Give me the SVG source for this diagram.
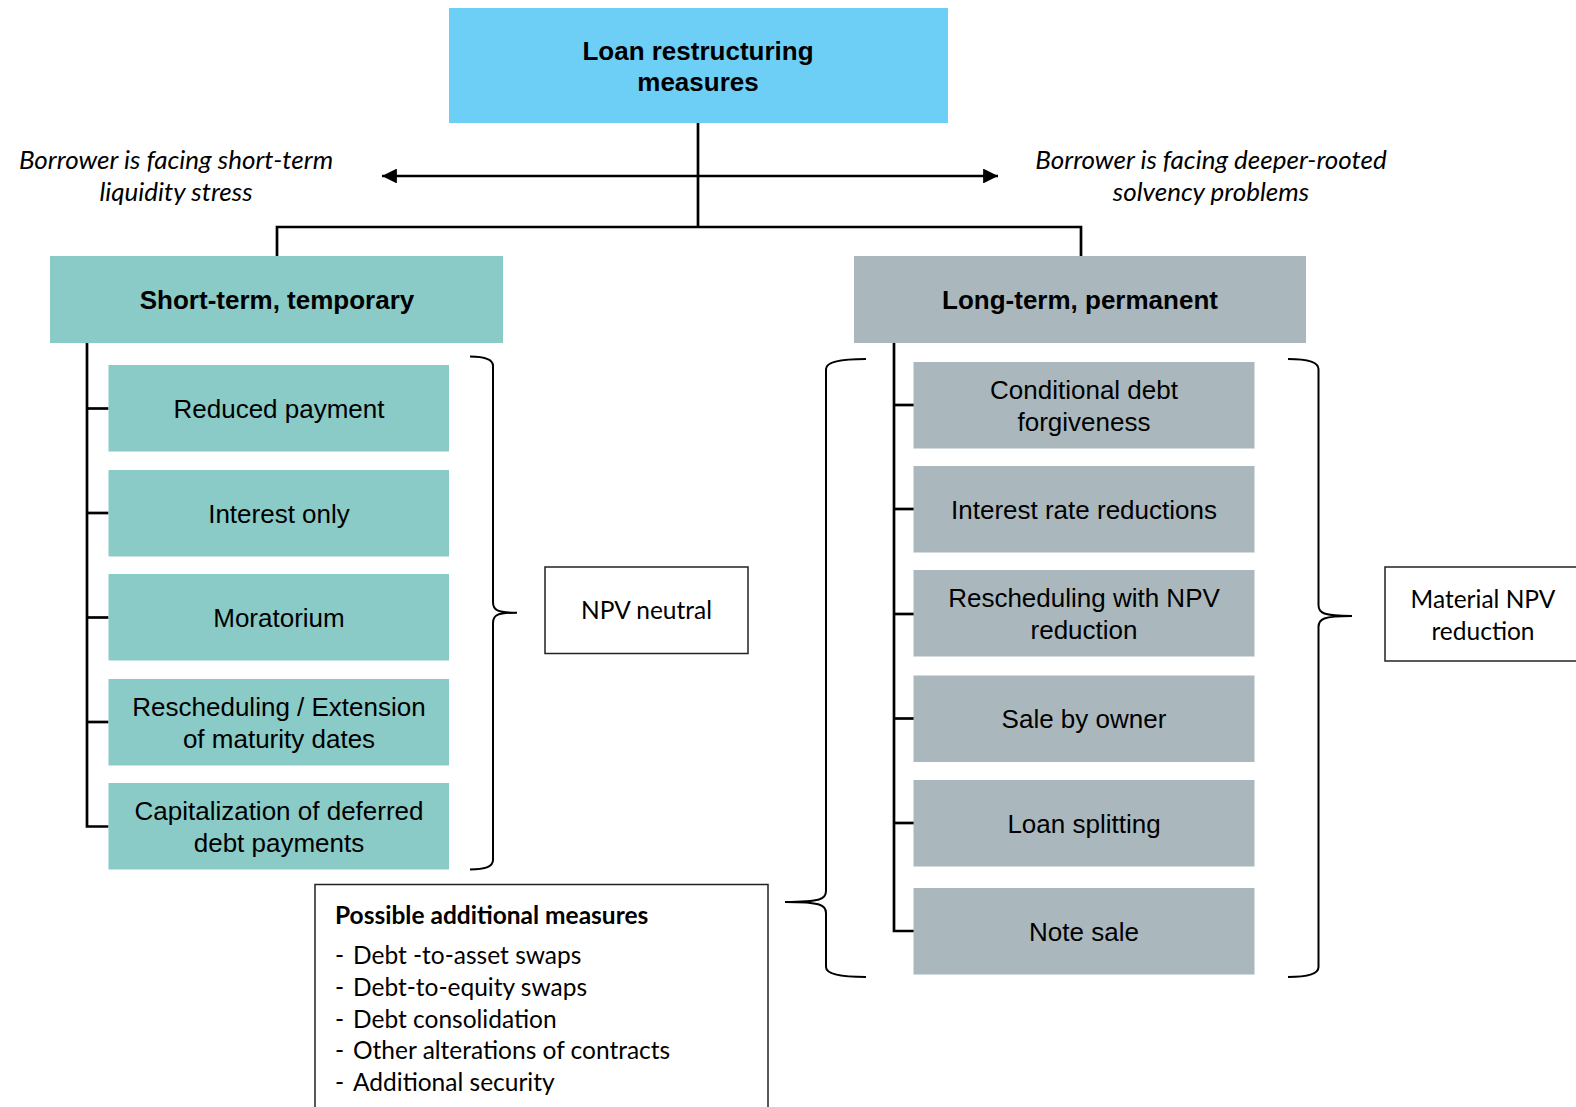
<svg xmlns="http://www.w3.org/2000/svg" width="1576" height="1107" viewBox="0 0 1576 1107">
<defs>
<style>
.top{fill:#6DCFF6}
.teal{fill:#8ACBC7}
.gray{fill:#AAB8BD}
.t{font-family:"Liberation Sans",Arial,sans-serif;font-size:26px;fill:#000;text-anchor:middle}
.b{font-weight:bold}
.c{font-family:Lato,"Liberation Sans",sans-serif;font-size:24.5px;fill:#000}
.ci{font-style:italic;text-anchor:middle;font-size:26px}
.box{fill:#fff;stroke:#222;stroke-width:1.5}
.ln{fill:none;stroke:#000;stroke-width:2.7}
.br{fill:none;stroke:#000;stroke-width:2}
</style>
<marker id="ah" viewBox="0 0 10 10" refX="10" refY="5" markerWidth="5.5" markerHeight="5.5" markerUnits="strokeWidth" orient="auto-start-reverse">
<path d="M0,0 L10,5 L0,10 Z" fill="#000"/>
</marker>
</defs>
<rect width="1576" height="1107" fill="#fff"/>

<g id="connectors">
<line class="ln" x1="382" y1="176" x2="998" y2="176" marker-start="url(#ah)" marker-end="url(#ah)"/>
<line class="ln" x1="698" y1="123" x2="698" y2="227"/>
<polyline class="ln" points="277,256 277,227 1081,227 1081,256"/>
<polyline class="ln" points="87,343 87,826.5 108.5,826.5"/>
<line class="ln" x1="87" y1="408.5" x2="108.5" y2="408.5"/>
<line class="ln" x1="87" y1="513" x2="108.5" y2="513"/>
<line class="ln" x1="87" y1="617.5" x2="108.5" y2="617.5"/>
<line class="ln" x1="87" y1="722" x2="108.5" y2="722"/>
<polyline class="ln" points="894,343 894,931 914,931"/>
<line class="ln" x1="894" y1="405" x2="914" y2="405"/>
<line class="ln" x1="894" y1="509" x2="914" y2="509"/>
<line class="ln" x1="894" y1="614" x2="914" y2="614"/>
<line class="ln" x1="894" y1="718.5" x2="914" y2="718.5"/>
<line class="ln" x1="894" y1="823" x2="914" y2="823"/>
<path class="br" d="M470,356.5 Q493,356.5 493,366 L493,602 C493,610 497,612.7 517,612.7 C497,612.7 493,615 493,623 L493,860 Q493,869.5 470,869.5"/>
<path class="br" d="M1288,359 Q1318.5,359 1318.5,369 L1318.5,605 C1318.5,613 1323,616 1352,616 C1323,616 1318.5,619 1318.5,627 L1318.5,967 Q1318.5,977 1288,977"/>
<path class="br" d="M866,359 Q826,359 826,369 L826,891 C826,899 821,902 785,902 C821,902 826,905 826,913 L826,967 Q826,977 866,977"/>
</g>

<g id="root">
<rect class="top" x="449" y="8" width="499" height="115"/>
<text class="t b" x="698" y="60">Loan restructuring</text>
<text class="t b" x="698" y="91">measures</text>
</g>

<g id="label-left">
<text class="c ci" x="176" y="169">Borrower is facing short-term</text>
<text class="c ci" x="176" y="201">liquidity stress</text>
</g>
<g id="label-right">
<text class="c ci" x="1211" y="169">Borrower is facing deeper-rooted</text>
<text class="c ci" x="1211" y="201">solvency problems</text>
</g>

<g id="short-term">
<rect class="teal" x="50" y="256" width="453" height="87"/>
<text class="t b" x="277" y="308.5">Short-term, temporary</text>
</g>
<g id="long-term">
<rect class="gray" x="854" y="256" width="452" height="87"/>
<text class="t b" x="1080" y="308.5">Long-term, permanent</text>
</g>

<g id="reduced-payment">
<rect class="teal" x="108.5" y="365" width="340.5" height="86.5"/>
<text class="t" x="279" y="418">Reduced payment</text>
</g>
<g id="interest-only">
<rect class="teal" x="108.5" y="470" width="340.5" height="86.5"/>
<text class="t" x="279" y="523">Interest only</text>
</g>
<g id="moratorium">
<rect class="teal" x="108.5" y="574" width="340.5" height="86.5"/>
<text class="t" x="279" y="627">Moratorium</text>
</g>
<g id="rescheduling-extension">
<rect class="teal" x="108.5" y="679" width="340.5" height="86.5"/>
<text class="t" x="279" y="716">Rescheduling / Extension</text>
<text class="t" x="279" y="748">of maturity dates</text>
</g>
<g id="capitalization">
<rect class="teal" x="108.5" y="783" width="340.5" height="86.5"/>
<text class="t" x="279" y="820">Capitalization of deferred</text>
<text class="t" x="279" y="852">debt payments</text>
</g>

<g id="npv-neutral">
<rect class="box" x="545" y="567" width="203" height="86.5"/>
<text class="c" x="646.5" y="619" text-anchor="middle">NPV neutral</text>
</g>

<g id="conditional-debt">
<rect class="gray" x="913.5" y="362" width="341" height="86.5"/>
<text class="t" x="1084" y="398.5">Conditional debt</text>
<text class="t" x="1084" y="430.5">forgiveness</text>
</g>
<g id="interest-rate">
<rect class="gray" x="913.5" y="466" width="341" height="86.5"/>
<text class="t" x="1084" y="518.5">Interest rate reductions</text>
</g>
<g id="rescheduling-npv">
<rect class="gray" x="913.5" y="570" width="341" height="86.5"/>
<text class="t" x="1084" y="606.5">Rescheduling with NPV</text>
<text class="t" x="1084" y="638.5">reduction</text>
</g>
<g id="sale-by-owner">
<rect class="gray" x="913.5" y="675.5" width="341" height="86.5"/>
<text class="t" x="1084" y="728">Sale by owner</text>
</g>
<g id="loan-splitting">
<rect class="gray" x="913.5" y="780" width="341" height="86.5"/>
<text class="t" x="1084" y="833">Loan splitting</text>
</g>
<g id="note-sale">
<rect class="gray" x="913.5" y="888" width="341" height="86.5"/>
<text class="t" x="1084" y="940.5">Note sale</text>
</g>

<g id="material-npv">
<rect class="box" x="1385" y="567" width="200" height="94"/>
<text class="c" x="1483" y="608" text-anchor="middle">Material NPV</text>
<text class="c" x="1483" y="640" text-anchor="middle">reduction</text>
</g>

<g id="additional-measures">
<rect class="box" x="315" y="884.5" width="453" height="240"/>
<text class="c" x="335" y="924" font-weight="bold">Possible additional measures</text>
<text class="c" x="335" y="964">-</text><text class="c" x="353" y="964">Debt -to-asset swaps</text>
<text class="c" x="335" y="995.5">-</text><text class="c" x="353" y="995.5">Debt-to-equity swaps</text>
<text class="c" x="335" y="1027.5">-</text><text class="c" x="353" y="1027.5">Debt consolidation</text>
<text class="c" x="335" y="1059">-</text><text class="c" x="353" y="1059">Other alterations of contracts</text>
<text class="c" x="335" y="1090.5">-</text><text class="c" x="353" y="1090.5">Additional security</text>
</g>
</svg>
